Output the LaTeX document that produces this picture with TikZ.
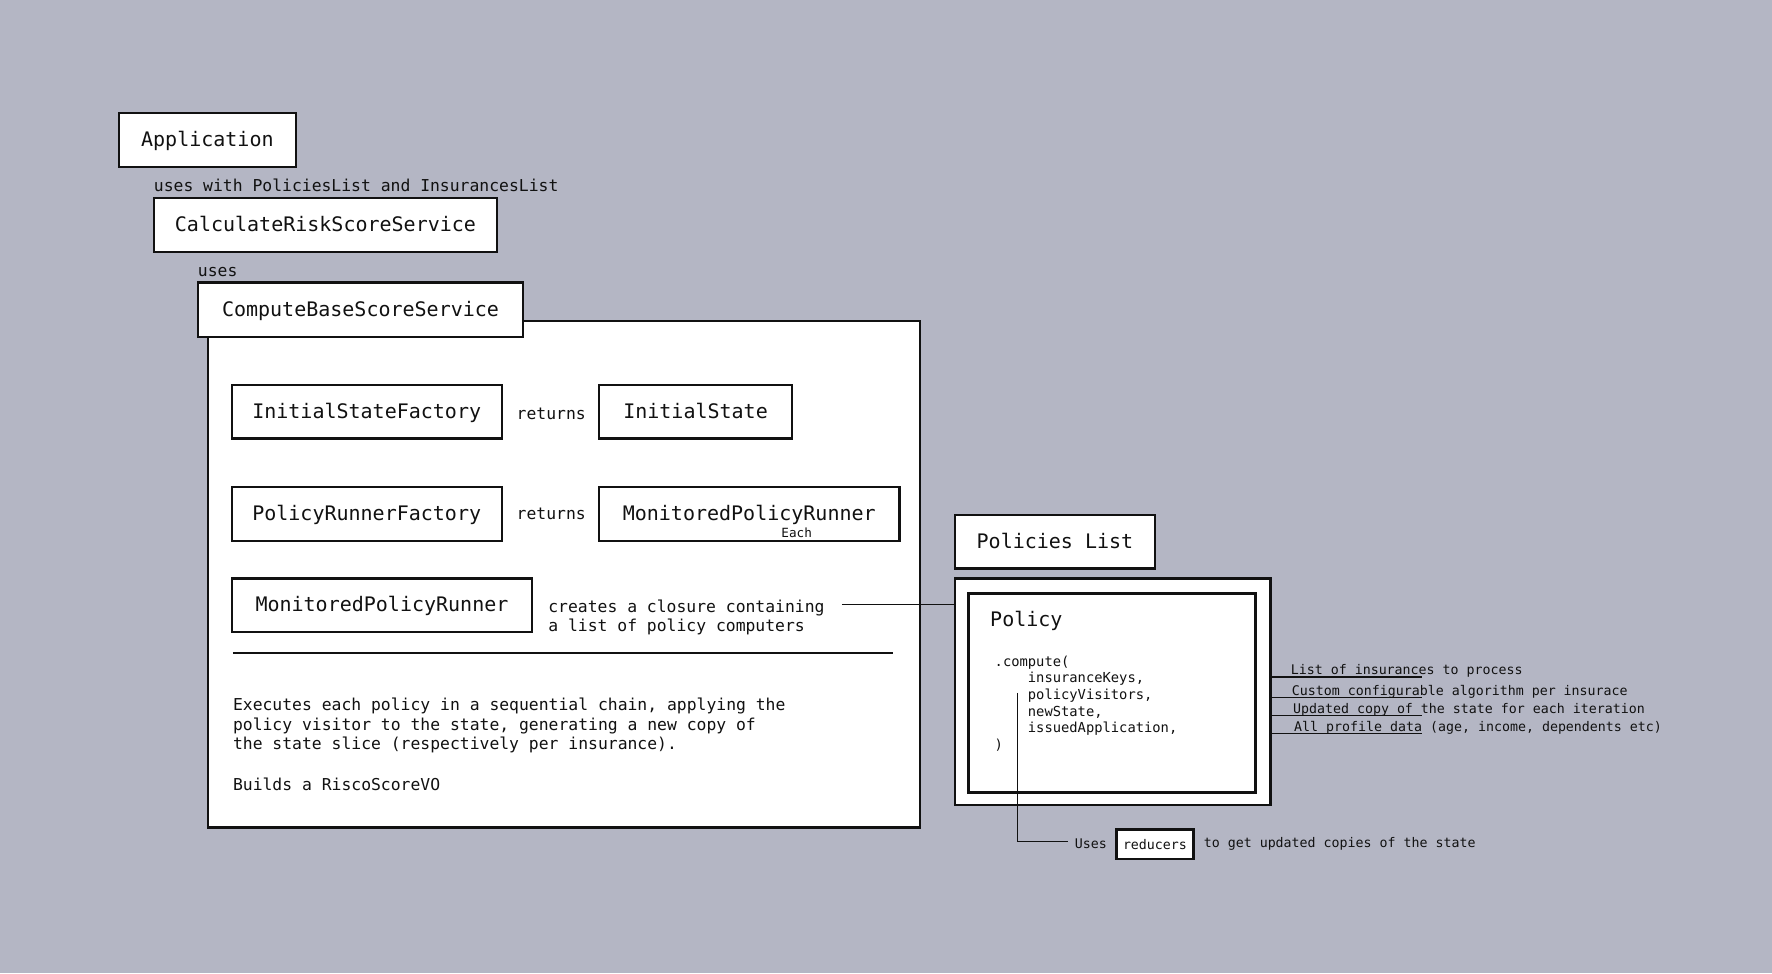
\documentclass[tikz,border=0pt]{standalone}
\usepackage{fontspec}
\newfontfamily\mymono{DejaVu Sans Mono}
\newcommand\fbig{\mymono\fontsize{17.7}{21}\selectfont}
\newcommand\fmed{\mymono\fontsize{14.5}{16.8}\selectfont}
\newcommand\fcode{\mymono\fontsize{12.2}{14.8}\selectfont}
\newcommand\fsmall{\mymono\fontsize{11.75}{14}\selectfont}
\newcommand\feach{\mymono\fontsize{11.2}{13}\selectfont}
\definecolor{bgc}{RGB}{180,182,196}
\definecolor{ink}{RGB}{17,17,17}
\begin{document}
\begin{tikzpicture}[x=1pt,y=-1pt,
  box/.style={draw=ink, line width=2pt, fill=white, inner sep=0pt, font=\fbig, text=ink, anchor=north west, text depth=0pt, text height=12pt},
  lbl/.style={font=\fmed, text=ink, anchor=west, inner sep=0pt, yshift=-2pt},
  note/.style={font=\fsmall, text=ink, anchor=west, inner sep=0pt, yshift=-2pt},
  thin/.style={draw=ink, line width=1pt},
  panel/.style={draw=ink, line width=2.2pt, fill=white}]
\fill[bgc] (0,0) rectangle (1568,861);
\useasboundingbox (0,0) rectangle (1568,861);

% left stack
\node[box, minimum width=157pt, minimum height=48pt] (app) at (104,99) {Application};
\node[lbl] (usesA) at (136,162) {uses with PoliciesList and InsurancesList};
\node[box, minimum width=304pt, minimum height=48pt] (crs) at (135,174) {CalculateRiskScoreService};
\node[lbl] (usesB) at (175,239) {uses};

% container
\node[panel, anchor=north west, minimum width=630pt, minimum height=448pt, inner sep=0pt] (cont) at (183,283) {};
\node[box, minimum width=288pt, minimum height=48pt] (cbs) at (174,249) {ComputeBaseScoreService};

\node[box, minimum width=239pt, minimum height=47pt] (isf) at (204,340) {InitialStateFactory};
\node[lbl] (ret1) at (457,364) {returns};
\node[box, minimum width=171pt, minimum height=47pt] (is) at (529,340) {InitialState};

\node[box, minimum width=239pt, minimum height=48pt] (prf) at (204,430) {PolicyRunnerFactory};
\node[lbl] (ret2) at (457,453) {returns};
\node[box, minimum width=266pt, minimum height=48pt] (mpr1) at (529,430) {MonitoredPolicyRunner};
\node[font=\feach, text=ink, inner sep=0pt] (each) at (705,471) {Each};

\node[box, minimum width=266pt, minimum height=47pt] (mpr2) at (204,511) {MonitoredPolicyRunner};
\node[lbl, align=left] (closure) at (485,544) {creates a closure containing\\a list of policy computers};

\coordinate (sepA) at (206,578);
\coordinate (sepB) at (790,578);
\draw[draw=ink, line width=2pt] (sepA) -- (sepB);

\node[lbl, align=left, font=\mymono\fontsize{14.5}{17.5}\selectfont] (desc) at (206,640)
  {Executes each policy in a sequential chain, applying the\\policy visitor to the state, generating a new copy of\\the state slice (respectively per insurance).};
\node[lbl] (builds) at (206,692) {Builds a RiscoScoreVO};

% policies
\node[box, minimum width=177pt, minimum height=47pt] (plist) at (844,455) {Policies List};
\node[panel, anchor=north west, minimum width=279pt, minimum height=200pt, inner sep=0pt] (outer) at (844,511) {};
\node[panel, anchor=north west, minimum width=254pt, minimum height=176pt, inner sep=0pt] (inner) at (856,524) {};
\node[font=\fbig, text=ink, anchor=west, inner sep=0pt, yshift=-2pt] (policy) at (876,547) {Policy};
\node[font=\fcode, text=ink, anchor=west, inner sep=0pt, align=left, yshift=-1.5pt] (code) at (880,621)
  {.compute(\\\phantom{xxxx}insuranceKeys,\\\phantom{xxxx}policyVisitors,\\\phantom{xxxx}newState,\\\phantom{xxxx}issuedApplication,\\)};

\coordinate (clsStart) at (745,535);
\draw[thin] (clsStart) -- (outer.west |- clsStart);

% reducers
\coordinate (vtop) at (900,613);
\coordinate (vbot) at (900,745);
\node[note] (uses) at (951,745) {Uses};
\node[draw=ink, line width=2pt, fill=white, font=\fsmall, text=ink, inner sep=0pt, minimum width=68pt, minimum height=26pt, anchor=north west] (red) at (987,733) {reducers};
\node[note] (toget) at (1065,745) {to get updated copies of the state};
\draw[thin] (vtop) -- (vbot) -- ([xshift=-6pt]uses.west |- vbot);

% right annotations
\coordinate (r1) at (1258,599);
\coordinate (r2) at (1258,617);
\coordinate (r3) at (1258,633);
\coordinate (r4) at (1258,649);
\draw[thin] (outer.east |- r1) -- (r1);
\draw[thin] (outer.east |- r2) -- (r2);
\draw[thin] (outer.east |- r3) -- (r3);
\draw[thin] (outer.east |- r4) -- (r4);
\node[note] (a1) at (1142,592) {List of insurances to process};
\node[note] (a2) at (1143,610) {Custom configurable algorithm per insurace};
\node[note] (a3) at (1144,626) {Updated copy of the state for each iteration};
\node[note] (a4) at (1145,642) {All profile data (age, income, dependents etc)};
\end{tikzpicture}
\end{document}
